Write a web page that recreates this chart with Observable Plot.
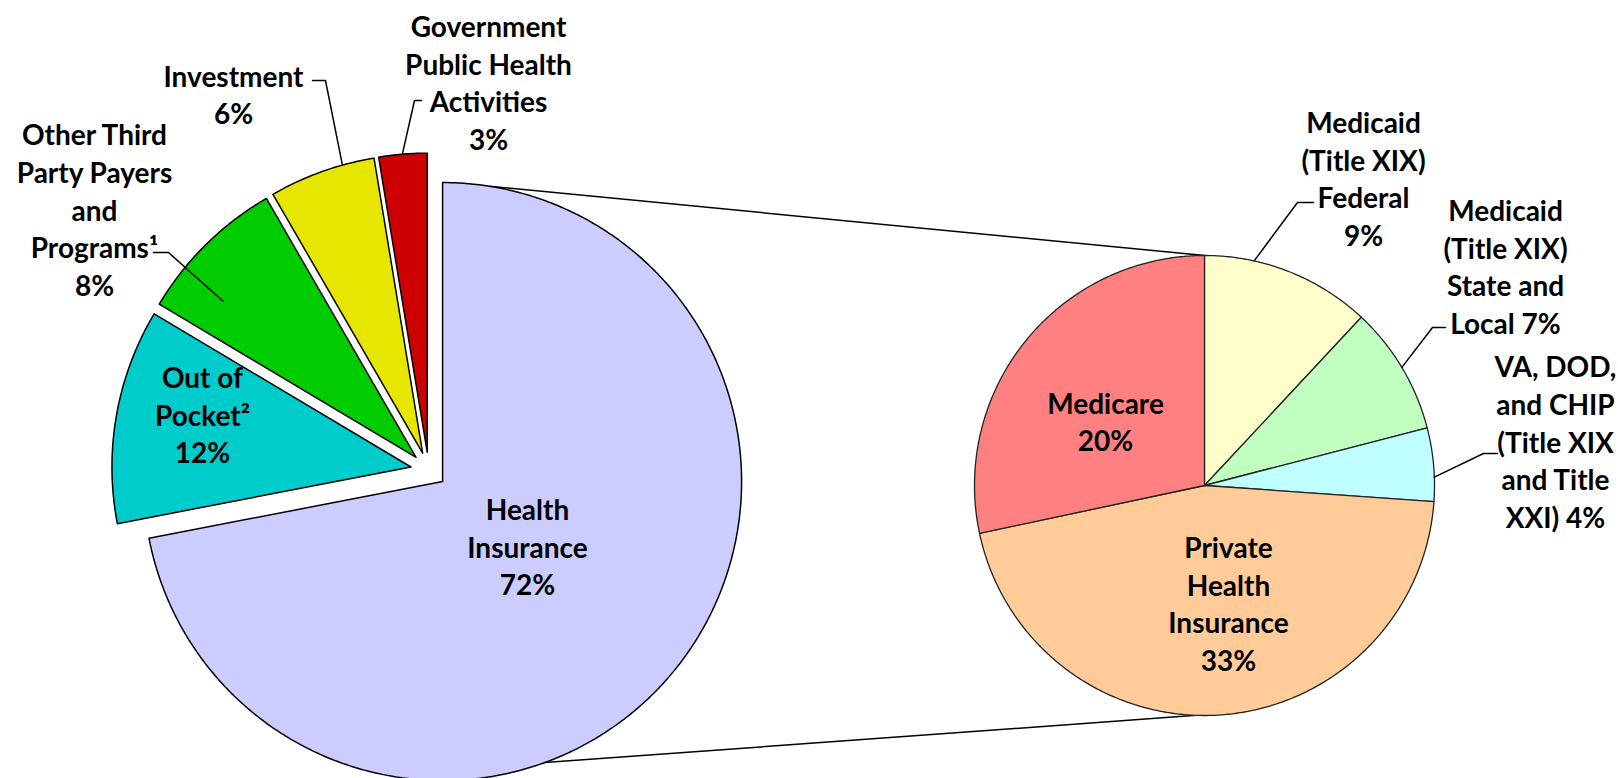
<!DOCTYPE html>
<html><head><meta charset="utf-8">
<script src="https://cdn.jsdelivr.net/npm/d3@7"></script>
<script src="https://cdn.jsdelivr.net/npm/@observablehq/plot@0.6"></script>
<style>body{margin:0;background:#fff;} #chart svg{display:block;}</style>
</head><body><div id="chart"></div>
<script>
// ---------- data ----------
const leftCategories = ["Health Insurance", "Out of Pocket", "Other Third Party Payers and Programs", "Investment", "Government Public Health Activities"];
const leftValues = [72.0, 11.6, 8.1, 5.75, 2.6];
const leftLabels = ["Health\nInsurance\n72%", "Out of\nPocket²\n12%", "Other Third\nParty Payers\nand\nPrograms¹\n8%", "Investment\n6%", "Government\nPublic Health\nActivities\n3%"];

const rightCategories = ["Medicaid (Title XIX) Federal", "Medicaid (Title XIX) State and Local", "VA, DOD, and CHIP (Title XIX and Title XXI)", "Private Health Insurance", "Medicare"];
const rightValues = [8.6, 6.5, 3.7, 32.8, 20.4];
const rightLabels = ["Medicaid\n(Title XIX)\nFederal\n9%", "Medicaid\n(Title XIX)\nState and\nLocal 7%", "VA, DOD,\nand CHIP\n(Title XIX\nand Title\nXXI) 4%", "Private\nHealth\nInsurance\n33%", "Medicare\n20%"];

// ---------- styles ----------
const leftColors = ["#CCCCFF", "#00CCCC", "#00CC00", "#E6E600", "#CC0000"];
const rightColors = ["#FFFFCC", "#C0FFC0", "#C0FFFF", "#FFCC99", "#FF8080"];

// ---------- layout ----------
const W = 1618, H = 778;
const leftPie = {cx: 428.2, cy: 469.6, r: 299, explode: 18};
const rightPie = {cx: 1204, cy: 485, r: 230, explode: 0};
const leftLabelPos = [[527, 545], [202, 413], [94, 208], [233, 93], [488, 81]];
const rightLabelPos = [[1363, 177], [1505, 265], [1555, 440], [1228, 602], [1105, 420]];
// leaders: [slice index, fraction within slice, radius factor, label-side start, elbow]
const leftLeaders = [
  [2, 0.28, 0.83, [153, 252], [168, 252]],
  [3, 0.70, 1.0, [312, 80], [325, 80]],
  [4, 0.49, 1.0, [421, 100], [414, 100]]
];
const rightLeaders = [
  [0, 0.29, 1.0, [1313, 202], [1297, 202]],
  [1, 0.495, 1.0, [1445, 327], [1432, 327]],
  [2, 0.67, 1.0, [1497, 453], [1483, 453]]
];
// series lines: [left angle (deg), right angle (deg)]
const seriesLines = [[9, 0], [160, 182]];

// ---------- geometry through d3.pie ----------
const rad = d => d * Math.PI / 180;
function layoutPie(values, pie) {
  const arcs = d3.pie().sort(null).value(d => d)(values);
  return arcs.map(a => {
    const mid = (a.startAngle + a.endAngle) / 2;
    const ox = pie.cx + pie.explode * Math.sin(mid);
    const oy = pie.cy - pie.explode * Math.cos(mid);
    return {a0: a.startAngle, a1: a.endAngle, ox, oy, r: pie.r};
  });
}
function polygon(s) {
  const pts = [{x: s.ox, y: s.oy}];
  const n = Math.max(2, Math.ceil((s.a1 - s.a0) / rad(0.5)));
  for (let i = 0; i <= n; i++) {
    const a = s.a0 + (s.a1 - s.a0) * i / n;
    pts.push({x: s.ox + s.r * Math.sin(a), y: s.oy - s.r * Math.cos(a)});
  }
  pts.push({x: s.ox, y: s.oy});
  return pts;
}
const leftSlices = layoutPie(leftValues, leftPie);
const rightSlices = layoutPie(rightValues, rightPie);

function leaderPts(slices, L) {
  const [i, t, k, start, elbow] = L;
  const s = slices[i];
  const a = s.a0 + (s.a1 - s.a0) * t;
  return [{x: start[0], y: start[1]}, {x: elbow[0], y: elbow[1]},
          {x: s.ox + k * s.r * Math.sin(a), y: s.oy - k * s.r * Math.cos(a)}];
}

const hi = leftSlices[0];
const links = seriesLines.map(([la, ra]) => ({
  x1: hi.ox + hi.r * Math.sin(rad(la)), y1: hi.oy - hi.r * Math.cos(rad(la)),
  x2: rightPie.cx + rightPie.r * Math.sin(rad(ra)), y2: rightPie.cy - rightPie.r * Math.cos(rad(ra))
}));

const marks = [];
marks.push(Plot.link(links, {x1: "x1", y1: "y1", x2: "x2", y2: "y2", stroke: "#000", strokeWidth: 1.5}));
leftSlices.forEach((s, i) => marks.push(Plot.line(polygon(s), {x: "x", y: "y", fill: leftColors[i], stroke: "#000", strokeWidth: 1.5, strokeLinejoin: "round", title: () => leftCategories[i]})));
rightSlices.forEach((s, i) => marks.push(Plot.line(polygon(s), {x: "x", y: "y", fill: rightColors[i], stroke: "#222", strokeWidth: 1.3, strokeLinejoin: "round", title: () => rightCategories[i]})));
leftLeaders.forEach(L => marks.push(Plot.line(leaderPts(leftSlices, L), {x: "x", y: "y", stroke: "#000", strokeWidth: 1.5})));
rightLeaders.forEach(L => marks.push(Plot.line(leaderPts(rightSlices, L), {x: "x", y: "y", stroke: "#000", strokeWidth: 1.5})));

const textData = leftLabels.map((t, i) => ({text: t, x: leftLabelPos[i][0], y: leftLabelPos[i][1]}))
  .concat(rightLabels.map((t, i) => ({text: t, x: rightLabelPos[i][0], y: rightLabelPos[i][1]})));
marks.push(Plot.text(textData, {x: "x", y: "y", text: "text", fontSize: 28, fontWeight: "bold", lineHeight: 1.35, textAnchor: "middle", lineAnchor: "middle", fill: "#000"}));

const chart = Plot.plot({
  width: W, height: H, margin: 0,
  x: {domain: [0, W], range: [0, W], axis: null},
  y: {domain: [0, H], range: [0, H], axis: null},
  style: {fontFamily: "Lato, 'Open Sans', sans-serif", background: "#fff"},
  marks
});
document.getElementById("chart").appendChild(chart);
</script>
</body></html>
